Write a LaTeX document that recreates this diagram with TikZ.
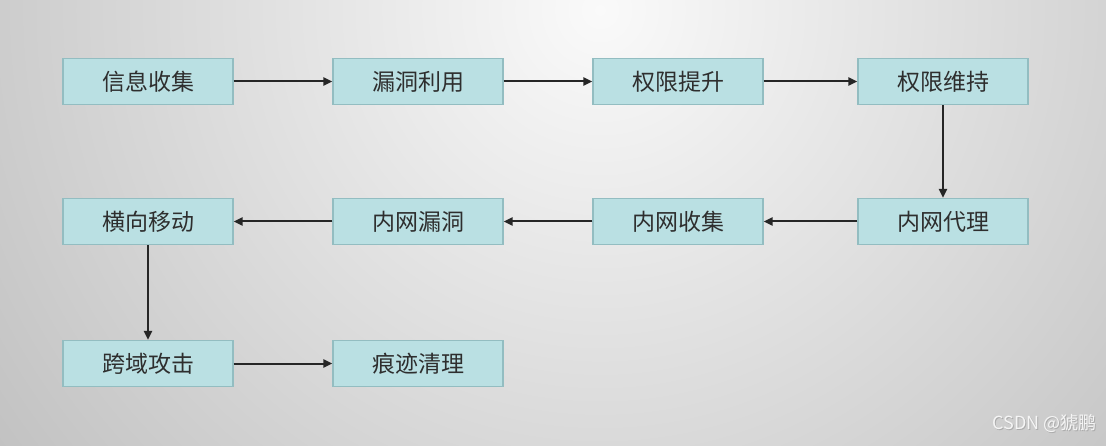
\documentclass[tikz,border=0pt]{standalone}
\usepackage{fontspec}
\newfontfamily\cjk{Noto Sans CJK SC}
\usetikzlibrary{arrows.meta}
\definecolor{boxfill}{HTML}{BAE0E3}
\definecolor{boxline}{HTML}{93BDC1}
\definecolor{txt}{HTML}{2E2E2E}
\tikzset{
  stepbox/.style={draw=boxline, line width=1.2pt, fill=boxfill, minimum width=170pt, minimum height=46pt, inner sep=0pt, font=\cjk\fontsize{23}{23}\selectfont, text=txt},
  flow/.style={line width=2pt, draw=black!85, -{Triangle[length=9pt,width=8pt]}}
}
\begin{document}
\begin{tikzpicture}[x=1pt,y=-1pt]
\useasboundingbox (0,0) rectangle (1106,446);
\begin{scope}
\clip (0,0) rectangle (1106,446);
\fill[gray!38] (0,0) rectangle (1106,446);
\shade[inner color=white!96!gray, outer color=gray!50] (600,10) circle (780);
\end{scope}
\node[stepbox] (a1) at (148,81.5) {信息收集};
\node[stepbox] (a2) at (418,81.5) {漏洞利用};
\node[stepbox] (a3) at (678,81.5) {权限提升};
\node[stepbox] (a4) at (943,81.5) {权限维持};
\node[stepbox] (b4) at (943,221.5) {内网代理};
\node[stepbox] (b3) at (678,221.5) {内网收集};
\node[stepbox] (b2) at (418,221.5) {内网漏洞};
\node[stepbox] (b1) at (148,221.5) {横向移动};
\node[stepbox] (c1) at (148,363.5) {跨域攻击};
\node[stepbox] (c2) at (418,363.5) {痕迹清理};
\draw[flow] (a1) -- (a2);
\draw[flow] (a2) -- (a3);
\draw[flow] (a3) -- (a4);
\draw[flow] (a4) -- (b4);
\draw[flow] (b4) -- (b3);
\draw[flow] (b3) -- (b2);
\draw[flow] (b2) -- (b1);
\draw[flow] (b1) -- (c1);
\draw[flow] (c1) -- (c2);
\node[font=\cjk\fontsize{18}{18}\selectfont, text=gray!65, anchor=east] (wm0) at (1101.5,424.5) {CSDN @猇鹏};
\node[font=\cjk\fontsize{18}{18}\selectfont, text=white!92!gray, anchor=east] (wm) at (1100,423) {CSDN @猇鹏};
\end{tikzpicture}
\end{document}
